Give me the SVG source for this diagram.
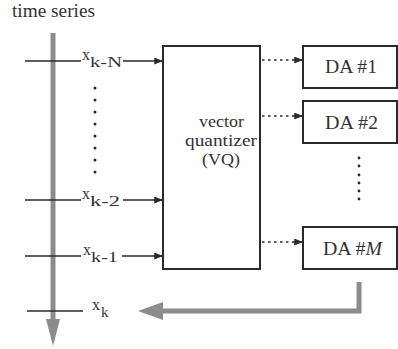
<svg xmlns="http://www.w3.org/2000/svg" width="398" height="349" viewBox="0 0 398 349">
<style>
.t{font-family:"Liberation Serif","Times New Roman",serif;fill:#333}
.ln{stroke:#2a2a2a;stroke-width:1.6;fill:none}
.bx{stroke:#2a2a2a;stroke-width:2;fill:#fff}
.dot{stroke:#2a2a2a;stroke-width:1.4;fill:none;stroke-dasharray:2.5 3.5}
.gray{stroke:#8c8c8c;stroke-width:5;fill:none}
</style>
<defs>
<marker id="ah" viewBox="0 0 10 8" refX="10" refY="4" markerWidth="12" markerHeight="7" markerUnits="userSpaceOnUse" orient="auto">
<path d="M0,0 L10,4 L0,8 Z" fill="#2a2a2a"/>
</marker>
</defs>
<rect width="398" height="349" fill="#fff"/>
<text class="t" x="12" y="17" font-size="18" textLength="83" lengthAdjust="spacingAndGlyphs">time series</text>

<g id="axis">
<line class="gray" x1="53" y1="33" x2="53" y2="320"/>
<path d="M46,319 L60,319 L53,346 Z" fill="#8c8c8c"/>
</g>

<g id="connectors">
<line class="ln" x1="25" y1="61" x2="81" y2="61"/>
<line class="ln" x1="123" y1="61" x2="163" y2="61" marker-end="url(#ah)"/>
<line class="ln" x1="25" y1="200" x2="81" y2="200"/>
<line class="ln" x1="123" y1="200" x2="163" y2="200" marker-end="url(#ah)"/>
<line class="ln" x1="25" y1="256" x2="81" y2="256"/>
<line class="ln" x1="122" y1="256" x2="163" y2="256" marker-end="url(#ah)"/>
<line class="ln" x1="27" y1="311" x2="83" y2="311"/>
<line class="dot" x1="262" y1="60" x2="292" y2="60"/>
<line class="ln" x1="292" y1="60" x2="303" y2="60" marker-end="url(#ah)"/>
<line class="dot" x1="262" y1="116" x2="292" y2="116"/>
<line class="ln" x1="292" y1="116" x2="303" y2="116" marker-end="url(#ah)"/>
<line class="dot" x1="262" y1="242" x2="292" y2="242"/>
<line class="ln" x1="292" y1="242" x2="303" y2="242" marker-end="url(#ah)"/>
<path class="gray" d="M359,282 L359,311 L160,311"/>
<path d="M163,302 L163,320 L138,311 Z" fill="#8c8c8c"/>
</g>

<g id="dots-left" fill="#2a2a2a">
<circle cx="95" cy="88" r="1.5"/><circle cx="95" cy="100" r="1.5"/><circle cx="95" cy="112" r="1.5"/><circle cx="95" cy="124" r="1.5"/><circle cx="95" cy="136" r="1.5"/><circle cx="95" cy="148" r="1.5"/><circle cx="95" cy="160" r="1.5"/><circle cx="95" cy="172" r="1.5"/>
</g>
<g id="dots-right" fill="#2a2a2a">
<circle cx="359" cy="158" r="1.4"/><circle cx="359" cy="166" r="1.4"/><circle cx="359" cy="175" r="1.4"/><circle cx="359" cy="183" r="1.4"/><circle cx="359" cy="191" r="1.4"/><circle cx="359" cy="199" r="1.4"/>
</g>

<g id="labels">
<text class="t" x="82" y="60" font-size="16">x</text>
<text class="t" x="90" y="67" font-size="15" textLength="32" lengthAdjust="spacingAndGlyphs">k-N</text>
<text class="t" x="82" y="199" font-size="16">x</text>
<text class="t" x="90" y="206" font-size="15" textLength="30" lengthAdjust="spacingAndGlyphs">k-2</text>
<text class="t" x="83" y="255" font-size="16">x</text>
<text class="t" x="91" y="262" font-size="15" textLength="27" lengthAdjust="spacingAndGlyphs">k-1</text>
<text class="t" x="92" y="310" font-size="16">x</text>
<text class="t" x="101" y="317" font-size="15">k</text>
</g>

<g id="vq">
<rect class="bx" x="163" y="46" width="97" height="223"/>
<text class="t" x="199" y="127" font-size="16" textLength="45" lengthAdjust="spacingAndGlyphs">vector</text>
<text class="t" x="185" y="146" font-size="16" textLength="72" lengthAdjust="spacingAndGlyphs">quantizer</text>
<text class="t" x="202" y="165" font-size="16" textLength="38" lengthAdjust="spacingAndGlyphs">(VQ)</text>
</g>

<g id="da1">
<rect class="bx" x="303" y="46" width="94" height="42"/>
<text class="t" x="325" y="73" font-size="18" textLength="52" lengthAdjust="spacingAndGlyphs">DA #1</text>
</g>
<g id="da2">
<rect class="bx" x="303" y="101" width="94" height="42"/>
<text class="t" x="325" y="129" font-size="18" textLength="53" lengthAdjust="spacingAndGlyphs">DA #2</text>
</g>
<g id="dam">
<rect class="bx" x="303" y="227" width="94" height="42"/>
<text class="t" x="323" y="255" font-size="18" textLength="59" lengthAdjust="spacingAndGlyphs">DA #<tspan font-style="italic">M</tspan></text>
</g>
</svg>
